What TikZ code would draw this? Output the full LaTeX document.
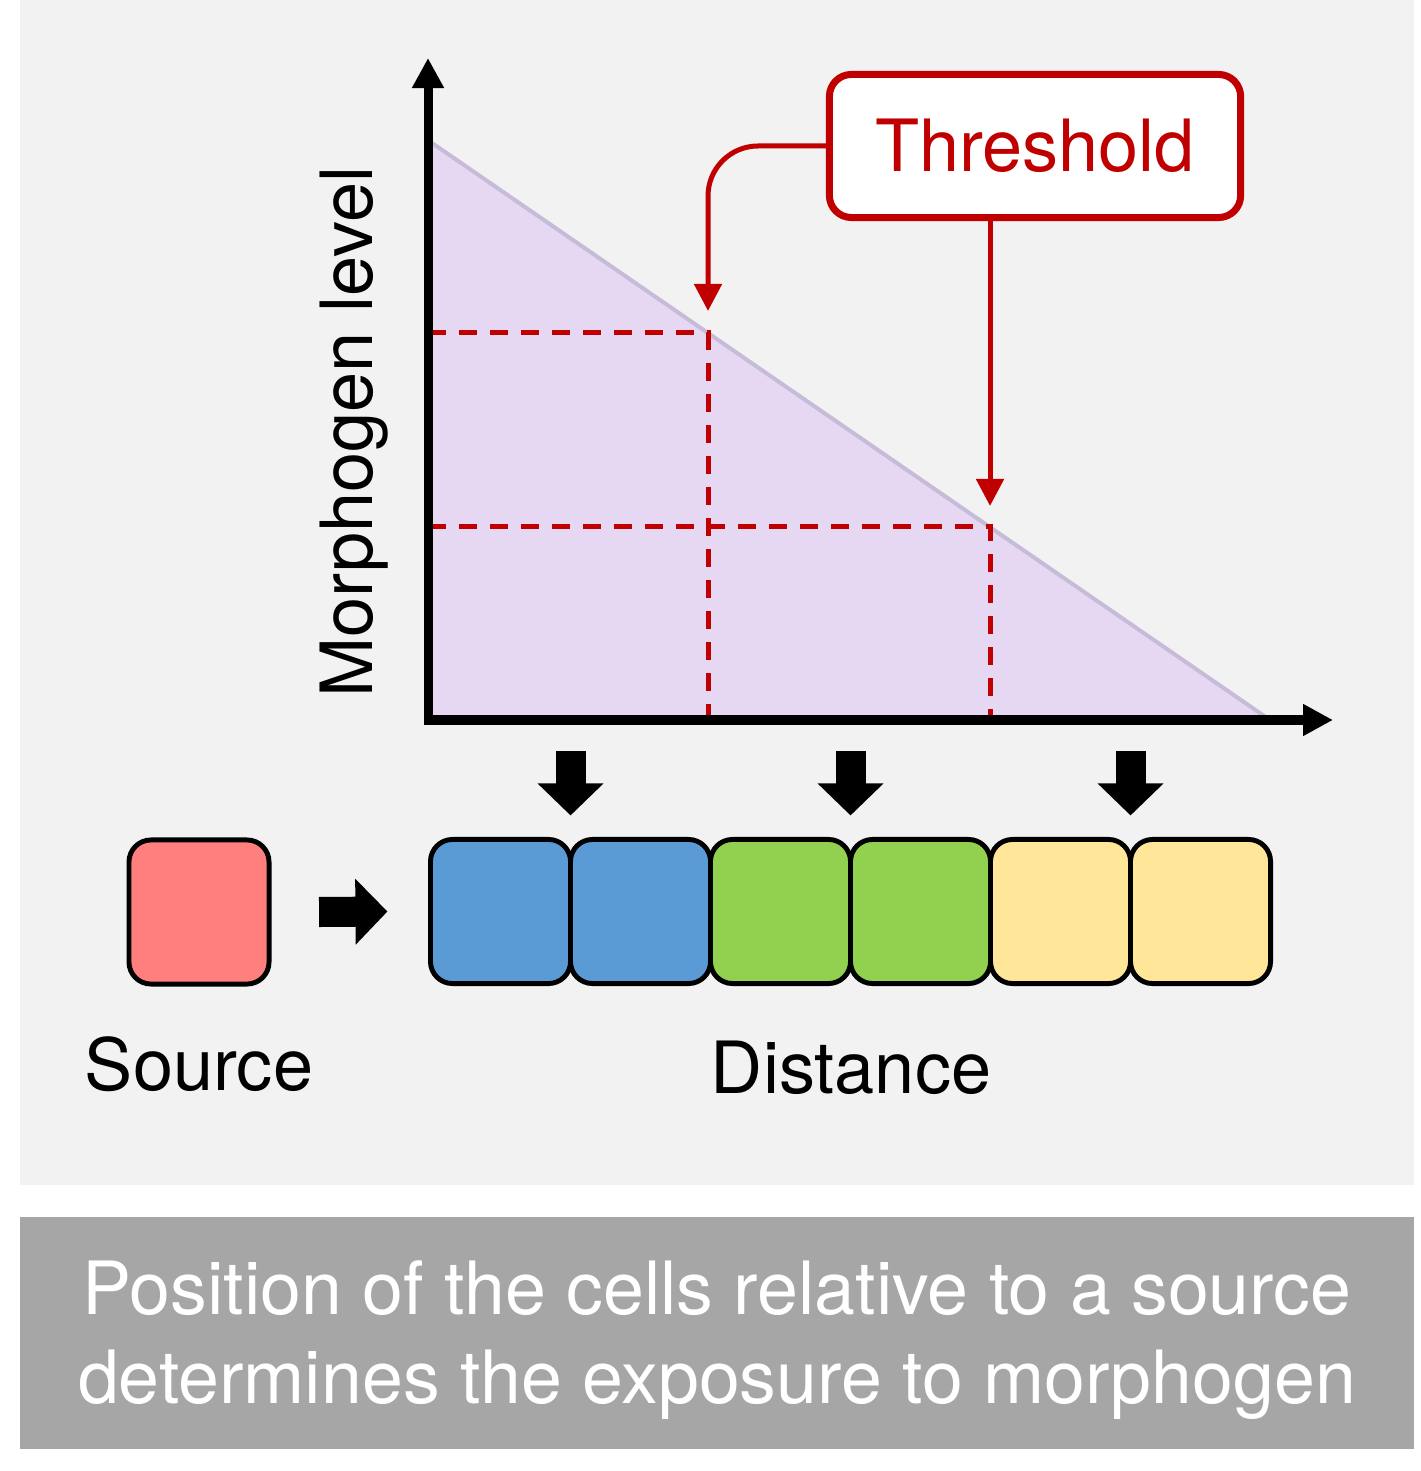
\documentclass[tikz,border=0pt]{standalone}
\usepackage{fontspec}
\setmainfont{TeX Gyre Heros}
\usetikzlibrary{arrows.meta,calc}
\definecolor{panelgray}{HTML}{F2F2F2}
\definecolor{capgray}{HTML}{A6A6A6}
\definecolor{thrred}{HTML}{C00000}
\definecolor{trifill}{HTML}{E6D8F2}
\definecolor{triedge}{HTML}{C6BCD9}
\definecolor{cblue}{HTML}{5B9BD5}
\definecolor{cgreen}{HTML}{92D050}
\definecolor{cyellow}{HTML}{FFE699}
\definecolor{srcred}{HTML}{FF7F7F}
\begin{document}
\begin{tikzpicture}
    [x=0.01cm, y=-0.01cm,
     lbl/.style={font=\fontsize{20.5}{25.3}\selectfont, inner sep=0pt},
     cell/.style={draw=black, line width=1.4pt, rounded corners=0.22cm,
       minimum width=1.40cm, minimum height=1.44cm, inner sep=0pt, outer sep=0pt},
     thrbox/.style={lbl, draw=thrred, fill=white, text=thrred, line width=0.07cm,
       rounded corners=0.22cm, minimum width=4.11cm, minimum height=1.43cm},
     blk/.style={line width=0.30cm, -{Triangle[width=0.64cm,length=0.32cm]}},
     axisline/.style={line width=0.09cm,
       {Triangle[width=0.30cm,length=0.30cm]}-{Triangle[width=0.30cm,length=0.30cm]}},
     thrline/.style={draw=thrred, line width=0.05cm, dash pattern=on 0.18cm off 0.13cm},
     thrarrow/.style={draw=thrred, line width=0.05cm, -{Triangle[width=0.27cm,length=0.27cm]}}]

    % panels
    \fill[white] (0,0) rectangle (1420,1471);
    \fill[panelgray] (20,0) rectangle (1414,1185);
    \fill[capgray] (20,1217) rectangle (1414,1449);

    % gradient
    \coordinate (o) at (428,720);
    \coordinate (ytip) at (428,58);
    \coordinate (xtip) at (1333,720);
    \coordinate (top) at (432,143);
    \coordinate (foot) at (1270,720);
    \coordinate (k1) at (708,333);
    \coordinate (k2) at (990,527);
    \fill[trifill] (top) -- (foot) -- (432,720) -- cycle;
    \draw[triedge, line width=0.04cm] (top) -- (foot);

    \draw[thrline] (o |- k1) -- (k1) -- (k1 |- o);
    \draw[thrline] (o |- k2) -- (k2) -- (k2 |- o);
    \draw[axisline] (ytip) |- (xtip);

    \node[lbl, rotate=90, anchor=base] (ylab) at (372,432) {Morphogen level};

    \node[thrbox] (thr) at (1035,146) {Threshold};
    \draw[thrarrow, rounded corners=0.5cm, shorten >=0.22cm] (thr.west) -| (k1);
    \draw[thrarrow, shorten >=0.21cm] (thr.south -| k2) -- (k2);

    % cells
    \node[cell, fill=srcred] (src) at (199,912) {};
    \foreach \c [count=\i] in {cblue,cblue,cgreen,cgreen,cyellow,cyellow}
    {
      \node[cell, fill=\c] (c\i) at ({500.5+140*(\i-1)},911.5) {};
    }
    \foreach \i in {1,3,5}
      \draw[blk] ([yshift=0.88cm]c\i.north east) -- ([yshift=0.24cm]c\i.north east);
    \draw[blk] ([xshift=0.50cm]src.east) -- ([xshift=-0.43cm]c1.west);

    \node[lbl, anchor=base] (srclab) at (199,1090) {Source};
    \node[lbl, anchor=base] (dist) at (851,1093) {Distance};

    \node[lbl, text=white, align=center, font=\fontsize{20.9}{25.3}\selectfont] (cap) at (717,1340)
      {Position of the cells relative to a source\\determines the exposure to morphogen};
  \end{tikzpicture}
\end{document}
